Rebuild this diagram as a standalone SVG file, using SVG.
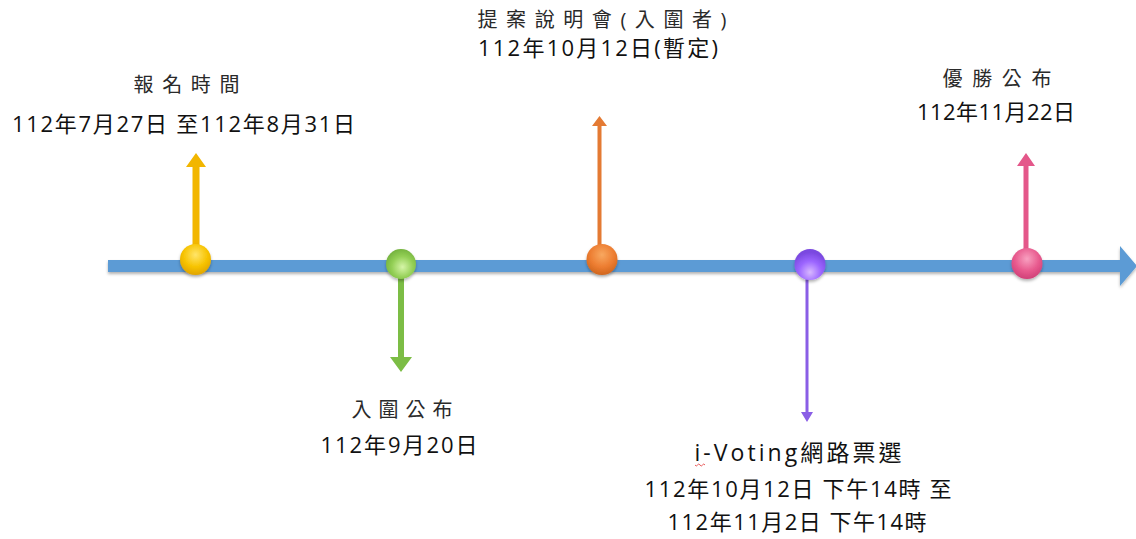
<svg xmlns="http://www.w3.org/2000/svg" width="1136" height="539" viewBox="0 0 1136 539">
<style>
text{font-family:"Open Sans","Noto Sans CJK TC","Noto Sans CJK SC",sans-serif;text-anchor:middle}
.t1{font-size:20px;fill:#2a2a2a}
.t2{font-size:22px;fill:#111}
.t3{font-size:23px;fill:#111}
</style>
<defs>
<filter id="sh" x="-10%" y="-50%" width="120%" height="200%">
<feDropShadow dx="0" dy="2" stdDeviation="1.5" flood-color="#000" flood-opacity="0.3"/>
</filter>
<radialGradient id="gy" cx="0.5" cy="0.35" r="0.65"><stop offset="0" stop-color="#ffe56a"/><stop offset="0.6" stop-color="#f7c300"/><stop offset="1" stop-color="#e0a400"/></radialGradient>
<radialGradient id="gg" cx="0.55" cy="0.6" r="0.65"><stop offset="0" stop-color="#d6f5a8"/><stop offset="0.55" stop-color="#93cf55"/><stop offset="1" stop-color="#6fae3a"/></radialGradient>
<radialGradient id="go" cx="0.5" cy="0.35" r="0.65"><stop offset="0" stop-color="#f8a860"/><stop offset="0.6" stop-color="#ed7d31"/><stop offset="1" stop-color="#d0661e"/></radialGradient>
<radialGradient id="gp" cx="0.5" cy="0.75" r="0.65"><stop offset="0" stop-color="#d8b8ff"/><stop offset="0.55" stop-color="#9c66ff"/><stop offset="1" stop-color="#7a48e0"/></radialGradient>
<radialGradient id="gk" cx="0.5" cy="0.35" r="0.65"><stop offset="0" stop-color="#f8a0c0"/><stop offset="0.6" stop-color="#e85a8e"/><stop offset="1" stop-color="#d04078"/></radialGradient>
</defs>
<g id="connectors">
<polygon id="timeline" points="108,260 1120,260 1120,246 1137,266 1120,286 1120,272 108,272" fill="#5b9bd5" filter="url(#sh)"/>
<polygon id="arrow-yellow" points="192.5,246 192.5,167 186,167 196,153 206,167 199.5,167 199.5,246" fill="#f2b600"/>
<polygon id="arrow-green" points="398,278 398,357 390,357 401,372 412,357 404,357 404,278" fill="#7cbd45"/>
<polygon id="arrow-orange" points="597.5,246 597.5,126 592,126 599.5,116 607,126 601.5,126 601.5,246" fill="#e47a33"/>
<polygon id="arrow-purple" points="805.5,279 805.5,412 801,412 807,422 813,412 808.5,412 808.5,279" fill="#8a5ee6"/>
<polygon id="arrow-pink" points="1023.5,249 1023.5,166 1017,166 1026,153 1035,166 1028.5,166 1028.5,249" fill="#e4578a"/>
</g>
<g id="node-registration">
<circle cx="195.5" cy="259.5" r="15.5" fill="url(#gy)" filter="url(#sh)"/>
<text class="t1" x="186.5" y="92" textLength="106" lengthAdjust="spacing">報名時間</text>
<text class="t2" x="183.5" y="132" textLength="343" lengthAdjust="spacing">112年7月27日 至112年8月31日</text>
</g>
<g id="node-shortlist">
<circle cx="401" cy="264" r="15" fill="url(#gg)" filter="url(#sh)"/>
<text class="t1" x="402" y="417" textLength="101" lengthAdjust="spacing">入圍公布</text>
<text class="t2" x="399" y="453" textLength="157" lengthAdjust="spacing">112年9月20日</text>
</g>
<g id="node-briefing">
<circle cx="602" cy="259.5" r="15.5" fill="url(#go)" filter="url(#sh)"/>
<text class="t1" x="602" y="27" textLength="249" lengthAdjust="spacing">提案說明會(入圍者)</text>
<text class="t2" x="598" y="56" textLength="240" lengthAdjust="spacing">112年10月12日(暫定)</text>
</g>
<g id="node-ivoting">
<circle cx="810" cy="264.5" r="15.5" fill="url(#gp)" filter="url(#sh)"/>
<text class="t3" x="798" y="461" textLength="207" lengthAdjust="spacing">i-Voting網路票選</text>
<path d="M695,465 q1.25,2 2.5,0 t2.5,0 t2.5,0 t2.5,0" fill="none" stroke="#e03030" stroke-width="0.8"/>
<text class="t2" x="798" y="497" textLength="307" lengthAdjust="spacing">112年10月12日 下午14時 至</text>
<text class="t2" x="797" y="530" textLength="259" lengthAdjust="spacing">112年11月2日 下午14時</text>
</g>
<g id="node-winner">
<circle cx="1027" cy="263.5" r="15.5" fill="url(#gk)" filter="url(#sh)"/>
<text class="t1" x="997" y="86" textLength="109" lengthAdjust="spacing">優勝公布</text>
<text class="t2" x="996" y="120" textLength="158" lengthAdjust="spacing">112年11月22日</text>
</g>
</svg>
